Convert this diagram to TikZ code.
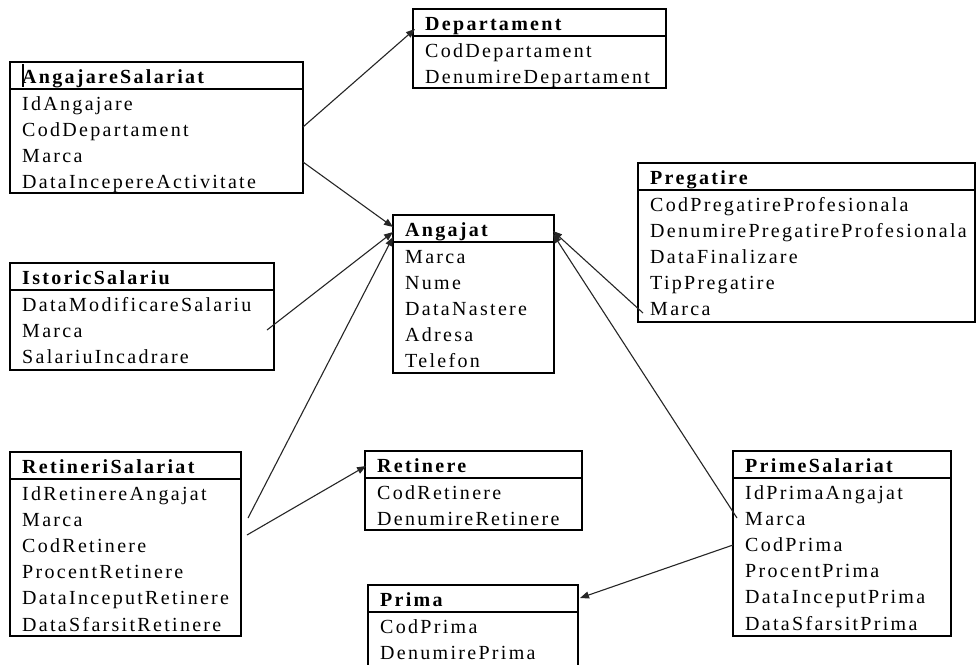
\documentclass[tikz,border=0pt]{standalone}
\usepackage{fontspec}
\setmainfont{Liberation Serif}[LetterSpace=11.5]
\usetikzlibrary{arrows.meta}
\tikzset{
  ebox/.style={draw=black, line width=1.3pt, inner sep=0pt, outer sep=0pt, anchor=north west},
  ebline/.style={draw=black, line width=1.3pt},
  etitle/.style={anchor=base west, inner sep=0pt, font=\fontsize{20}{22}\selectfont\bfseries},
  erow/.style={anchor=base west, inner sep=0pt, font=\fontsize{20}{22}\selectfont},
  rel/.style={draw=black!85, line width=1.1pt, -{Triangle[length=9pt,width=7pt]}},
  relplain/.style={draw=black!85, line width=1.1pt}
}
% #1 name, #2 left, #3 top, #4 width, #5 height, #6 title, #7 rows
\newcommand{\erentity}[7]{%
  \node[ebox, minimum width=#4pt, minimum height=#5pt] (#1) at (#2,#3) {};
  \draw[ebline] (#2,#3+27) -- (#2+#4,#3+27);
  \node[etitle] (#1-t) at (#2+12,#3+21) {#6};
  \foreach \r [count=\i] in {#7} {
    \node[erow] (#1-\i) at (#2+12,#3+48+26.2*\i-26.2) {\r};
  }%
}
\begin{document}
\begin{tikzpicture}[x=1pt,y=-1pt]
\clip (0,0) rectangle (976,664);
\fill[white] (0,0) rectangle (976,664);

\erentity{dep}{413}{9}{253}{79}{Departament}{CodDepartament,DenumireDepartament}
\erentity{angs}{10}{62}{293}{131}{AngajareSalariat}{IdAngajare,CodDepartament,Marca,DataIncepereActivitate}
\erentity{preg}{638}{163}{337}{159}{Pregatire}{CodPregatireProfesionala,DenumirePregatireProfesionala,DataFinalizare,TipPregatire,Marca}
\erentity{ang}{393}{215}{161}{158}{Angajat}{Marca,Nume,DataNastere,Adresa,Telefon}
\erentity{ist}{10}{263}{264}{107}{IstoricSalariu}{DataModificareSalariu,Marca,SalariuIncadrare}
\erentity{rets}{10}{452}{231}{184}{RetineriSalariat}{IdRetinereAngajat,Marca,CodRetinere,ProcentRetinere,DataInceputRetinere,DataSfarsitRetinere}
\erentity{ret}{365}{451}{217}{79}{Retinere}{CodRetinere,DenumireRetinere}
\erentity{prs}{733}{451}{218}{185}{PrimeSalariat}{IdPrimaAngajat,Marca,CodPrima,ProcentPrima,DataInceputPrima,DataSfarsitPrima}
\erentity{pr}{368}{585}{210}{82}{Prima}{CodPrima,DenumirePrima}

% text cursor artifact
\draw[line width=1.6pt] (23,64) -- (23,87);

% connector end points
\coordinate (a1) at (303,127);
\coordinate (b1) at (415,29);
\coordinate (a2) at (303,162);
\coordinate (b2) at (393,227);
\coordinate (a3) at (267,330);
\coordinate (b3) at (393,232);
\coordinate (a4) at (248,518);
\coordinate (b4) at (393,237);
\coordinate (a5) at (247,535);
\coordinate (b5) at (366,466);
\coordinate (a6) at (643,313);
\coordinate (b6) at (553,231);
\coordinate (a7) at (737,518);
\coordinate (b7) at (553,234);
\coordinate (a8) at (733,545);
\coordinate (b8) at (580,598);

\draw[rel] (a1) -- (b1);
\draw[rel] (a2) -- (b2);
\draw[rel] (a3) -- (b3);
\draw[rel] (a4) -- (b4);
\draw[rel] (a5) -- (b5);
\draw[rel] (a6) -- (b6);
\draw[rel] (a7) -- (b7);
\draw[rel] (a8) -- (b8);
\end{tikzpicture}
\end{document}
